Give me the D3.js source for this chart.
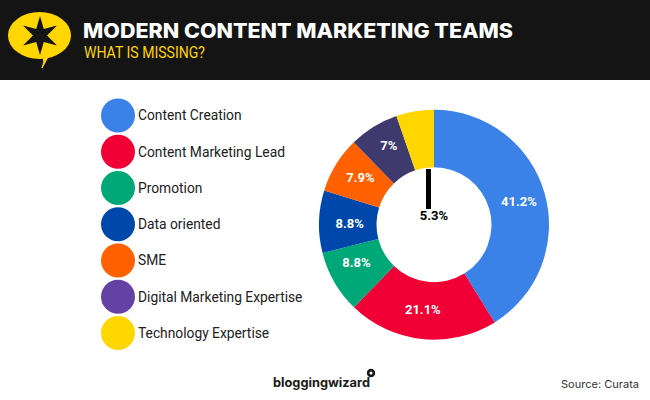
<!DOCTYPE html>
<html><head><meta charset="utf-8">
<script src="https://cdn.jsdelivr.net/npm/d3@7"></script>
<style>html,body{margin:0;padding:0;background:#fff}svg{display:block}</style>
</head><body><svg id="c" width="650" height="400"></svg>
<script>
const categories=["Content Creation","Content Marketing Lead","Promotion","Data oriented","SME","Digital Marketing Expertise","Technology Expertise"];
const values=[41.2,21.1,8.8,8.8,7.9,7,5.3];
const valueLabels=["41.2%","21.1%","8.8%","8.8%","7.9%","7%","5.3%"];
const sliceColors=["#3b82e8","#f00034","#00a878","#0047ab","#ff6000","#3f3a6e","#ffd600"];
const legendColors=["#3b82e8","#f00034","#00a878","#0047ab","#ff6000","#6441a5","#ffd600"];
const title="MODERN CONTENT MARKETING TEAMS", subtitle="WHAT IS MISSING?", source="Source: Curata", brand="bloggingwizard";

const svg=d3.select("#c");
svg.append("rect").attr("width",650).attr("height",400).attr("fill","#fff");
svg.append("rect").attr("width",650).attr("height",80).attr("fill","#141414");

// logo
const logo=svg.append("g");
logo.append("ellipse").attr("cx",39.5).attr("cy",35.5).attr("rx",31.5).attr("ry",23.5).attr("fill","#ffd600");
logo.append("path").attr("d","M43,55 L48,57 L42,68 Q45,62 43,55Z").attr("fill","#ffd600").attr("stroke","#ffd600");
logo.append("path").attr("fill","#141414").attr("d",
 "M40,16 L43.8,29 L57,25.5 L47,35.5 L57,45.5 L43.8,42 L40,55 L36.2,42 L23,45.5 L33,35.5 L23,25.5 L36.2,29Z");

function fit(sel,w){sel.attr("textLength",w).attr("lengthAdjust","spacingAndGlyphs");return sel;}
fit(svg.append("text").text(title).attr("x",83).attr("y",37.5).attr("fill","#fff")
 .attr("font-family","Inter").attr("font-weight",800).attr("font-size",20),430);
fit(svg.append("text").text(subtitle).attr("x",84).attr("y",58).attr("fill","#ffd600")
 .attr("font-family","Roboto").attr("font-weight",400).attr("font-size",17),121);

// legend
const ly=d3.scalePoint().domain(categories).range([115.5,333]);
const lg=svg.append("g").selectAll("g").data(categories).join("g")
 .attr("transform",d=>`translate(0,${ly(d)})`);
lg.append("circle").attr("cx",118).attr("r",17).attr("fill",(d,i)=>legendColors[i]);
lg.append("text").text(d=>d).attr("x",138).attr("dy","0.35em").attr("fill","#212121")
 .attr("font-family","Roboto").attr("font-size",13.8);

// donut
const cx=434,cy=224.7,R=115,r=57.5;
const pie=d3.pie().sort(null)(values);
const arc=d3.arc().innerRadius(r).outerRadius(R);
const g=svg.append("g").attr("transform",`translate(${cx},${cy})`);
g.selectAll("path").data(pie).join("path").attr("d",arc).attr("fill",(d,i)=>sliceColors[i]);
const labelNudge=[[2,0],[-2,-1],[-3,-6],[2,1],[0,-2],[0,-6]];
const labelled=pie.slice(0,6);
g.selectAll("text").data(labelled).join("text")
 .text((d,i)=>valueLabels[i])
 .attr("transform",(d,i)=>{const c=arc.centroid(d);return `translate(${c[0]+labelNudge[i][0]},${c[1]+labelNudge[i][1]})`;})
 .attr("text-anchor","middle").attr("dy","0.36em").attr("fill","#fff")
 .attr("font-family","Roboto").attr("font-weight",700).attr("font-size",13);

// callout for the last slice
g.append("rect").attr("x",-8).attr("y",-55.7).attr("width",5).attr("height",40).attr("fill","#000");
g.append("text").text(valueLabels[6]).attr("x",0).attr("y",-4.8).attr("text-anchor","middle")
 .attr("font-family","Roboto").attr("font-weight",700).attr("font-size",13).attr("fill","#000");

// footer
fit(svg.append("text").text(brand).attr("x",273).attr("y",387).attr("fill","#1a1a1a")
 .attr("font-family","Inter").attr("font-weight",700).attr("font-size",12.5),97);
svg.append("circle").attr("cx",371).attr("cy",373).attr("r",4.2).attr("fill","#1a1a1a");
svg.append("circle").attr("cx",371).attr("cy",373).attr("r",1.5).attr("fill","#fff");
fit(svg.append("text").text(source).attr("x",561).attr("y",388).attr("fill","#333")
 .attr("font-family","Inter").attr("font-weight",400).attr("font-size",10.5),78);
</script></body></html>
